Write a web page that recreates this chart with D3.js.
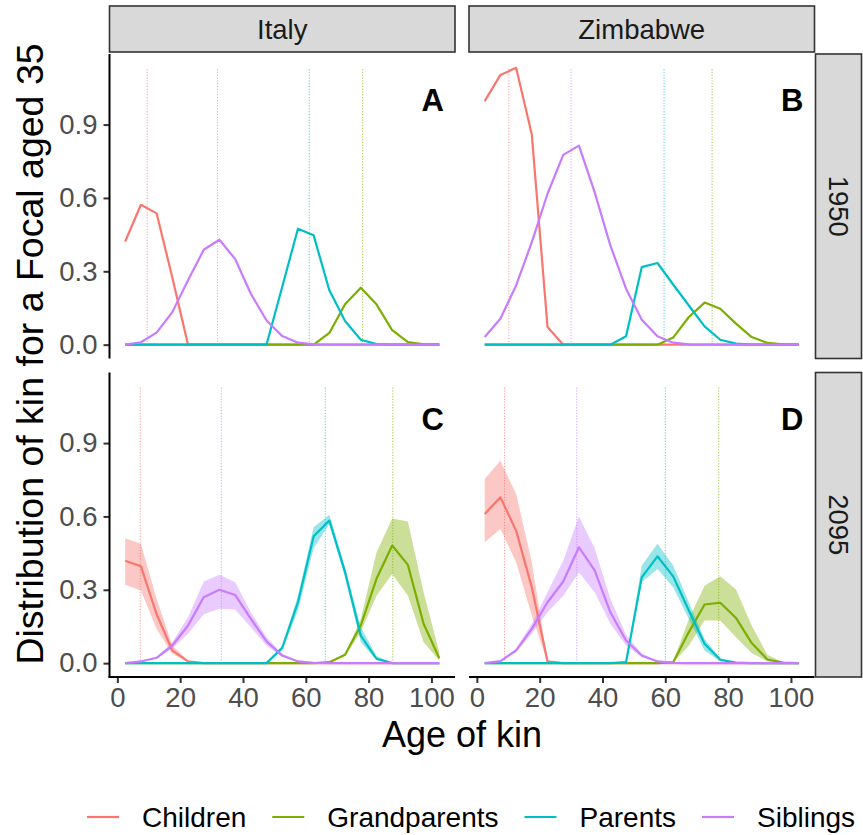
<!DOCTYPE html>
<html><head><meta charset="utf-8">
<script src="https://cdn.jsdelivr.net/npm/d3@7"></script>
<style>body{margin:0;background:#fff} text{font-family:"Liberation Sans",Arial,Helvetica,sans-serif}</style>
</head><body><svg id="chart" width="863" height="835"></svg>
<script>
// ---------- data ----------
const ages = [2.5,7.5,12.5,17.5,22.5,27.5,32.5,37.5,42.5,47.5,52.5,57.5,62.5,67.5,72.5,77.5,82.5,87.5,92.5,97.5,102.5];
const kinTypes = ["Children","Grandparents","Parents","Siblings"];
const kinColors = ["#F8766D","#7CAE00","#00BFC4","#C77CFF"];
const countries = ["Italy","Zimbabwe"];
const years = ["1950","2095"];
const panelLabels = ["A","B","C","D"];
const xTicks = [0,20,40,60,80,100];
const yTicks = [0,0.3,0.6,0.9];

// Italy 1950
const itaChildren1950 = [0.422,0.572,0.537,0.275,0,0,0,0,0,0,0,0,0,0,0,0,0,0,0,0,0];
const itaGrand1950    = [0,0,0,0,0,0,0,0,0,0,0,0,0,0.048,0.165,0.233,0.165,0.059,0.010,0.001,0];
const itaParents1950  = [0,0,0,0,0,0,0,0,0,0,0.237,0.474,0.447,0.222,0.097,0.020,0.002,0,0,0,0];
const itaSiblings1950 = [0,0.010,0.049,0.133,0.263,0.388,0.429,0.350,0.208,0.099,0.035,0.008,0.001,0,0,0,0,0,0,0,0];
const itaMeans1950 = [9.5,78.1,61.1,31.9];

// Zimbabwe 1950
const zwChildren1950 = [0.996,1.103,1.132,0.859,0.072,0,0,0,0,0,0,0,0,0,0,0,0,0,0,0,0];
const zwGrand1950    = [0,0,0,0,0,0,0,0,0,0,0,0,0.029,0.113,0.172,0.147,0.086,0.031,0.007,0.001,0];
const zwParents1950  = [0,0,0,0,0,0,0,0,0,0.034,0.317,0.334,0.246,0.160,0.075,0.020,0.004,0,0,0,0];
const zwSiblings1950 = [0.031,0.106,0.242,0.419,0.617,0.776,0.814,0.624,0.406,0.229,0.102,0.034,0.008,0.001,0,0,0,0,0,0,0];
const zwMeans1950 = [10.2,74.9,59.6,30.0];

// Italy 2095 (mean, lower, upper)
const itaChildren2095   = [0.419,0.396,0.200,0.052,0.007,0,0,0,0,0,0,0,0,0,0,0,0,0,0,0,0];
const itaChildrenLo2095 = [0.321,0.297,0.140,0.038,0.004,0,0,0,0,0,0,0,0,0,0,0,0,0,0,0,0];
const itaChildrenHi2095 = [0.511,0.488,0.263,0.072,0.010,0,0,0,0,0,0,0,0,0,0,0,0,0,0,0,0];
const itaGrand2095   = [0,0,0,0,0,0,0,0,0,0,0,0,0,0.004,0.034,0.154,0.345,0.481,0.402,0.161,0.020];
const itaGrandLo2095 = [0,0,0,0,0,0,0,0,0,0,0,0,0,0.003,0.030,0.127,0.276,0.365,0.276,0.086,0.011];
const itaGrandHi2095 = [0,0,0,0,0,0,0,0,0,0,0,0,0,0.005,0.040,0.181,0.453,0.592,0.579,0.290,0.045];
const itaParents2095   = [0,0,0,0,0,0,0,0,0,0,0.063,0.249,0.519,0.583,0.372,0.113,0.018,0,0,0,0];
const itaParentsLo2095 = [0,0,0,0,0,0,0,0,0,0,0.052,0.215,0.470,0.569,0.351,0.086,0.012,0,0,0,0];
const itaParentsHi2095 = [0,0,0,0,0,0,0,0,0,0,0.072,0.276,0.556,0.607,0.392,0.147,0.030,0,0,0,0];
const itaSiblings2095   = [0,0.007,0.022,0.072,0.154,0.270,0.300,0.279,0.181,0.089,0.031,0.007,0.001,0,0,0,0,0,0,0,0];
const itaSiblingsLo2095 = [0,0.006,0.019,0.060,0.120,0.200,0.222,0.219,0.147,0.072,0.025,0.005,0.001,0,0,0,0,0,0,0,0];
const itaSiblingsHi2095 = [0,0.008,0.025,0.085,0.188,0.334,0.362,0.331,0.208,0.106,0.038,0.009,0.001,0,0,0,0,0,0,0,0];
const itaMeans2095 = [7.3,87.7,66.2,33.1];

// Zimbabwe 2095 (mean, lower, upper)
const zwChildren2095   = [0.610,0.678,0.542,0.310,0.007,0,0,0,0,0,0,0,0,0,0,0,0,0,0,0,0];
const zwChildrenLo2095 = [0.494,0.549,0.413,0.195,0.004,0,0,0,0,0,0,0,0,0,0,0,0,0,0,0,0];
const zwChildrenHi2095 = [0.753,0.828,0.692,0.413,0.010,0,0,0,0,0,0,0,0,0,0,0,0,0,0,0,0];
const zwGrand2095   = [0,0,0,0,0,0,0,0,0,0,0,0,0.004,0.127,0.240,0.247,0.185,0.082,0.015,0.002,0];
const zwGrandLo2095 = [0,0,0,0,0,0,0,0,0,0,0,0,0.002,0.072,0.174,0.174,0.106,0.042,0.007,0.001,0];
const zwGrandHi2095 = [0,0,0,0,0,0,0,0,0,0,0,0,0.006,0.181,0.317,0.355,0.301,0.154,0.034,0.003,0];
const zwParents2095   = [0,0,0,0,0,0,0,0,0,0.004,0.351,0.437,0.355,0.215,0.079,0.014,0.002,0,0,0,0];
const zwParentsLo2095 = [0,0,0,0,0,0,0,0,0,0.003,0.331,0.385,0.310,0.181,0.052,0.008,0.001,0,0,0,0];
const zwParentsHi2095 = [0,0,0,0,0,0,0,0,0,0.005,0.399,0.488,0.399,0.249,0.099,0.020,0.003,0,0,0,0];
const zwSiblings2095   = [0,0.008,0.052,0.140,0.249,0.334,0.474,0.379,0.208,0.093,0.031,0.007,0.001,0,0,0,0,0,0,0,0];
const zwSiblingsLo2095 = [0,0.007,0.045,0.120,0.208,0.276,0.372,0.290,0.161,0.072,0.024,0.005,0.001,0,0,0,0,0,0,0,0];
const zwSiblingsHi2095 = [0,0.009,0.060,0.161,0.290,0.419,0.600,0.470,0.263,0.116,0.040,0.009,0.001,0,0,0,0,0,0,0,0];
const zwMeans2095 = [8.8,77.0,60.0,31.8];

// ---------- panels ----------
const panels = [
  {col:0,row:0,label:panelLabels[0],mean:[itaChildren1950,itaGrand1950,itaParents1950,itaSiblings1950],lo:null,hi:null,means:itaMeans1950},
  {col:1,row:0,label:panelLabels[1],mean:[zwChildren1950,zwGrand1950,zwParents1950,zwSiblings1950],lo:null,hi:null,means:zwMeans1950},
  {col:0,row:1,label:panelLabels[2],mean:[itaChildren2095,itaGrand2095,itaParents2095,itaSiblings2095],
    lo:[itaChildrenLo2095,itaGrandLo2095,itaParentsLo2095,itaSiblingsLo2095],hi:[itaChildrenHi2095,itaGrandHi2095,itaParentsHi2095,itaSiblingsHi2095],means:itaMeans2095},
  {col:1,row:1,label:panelLabels[3],mean:[zwChildren2095,zwGrand2095,zwParents2095,zwSiblings2095],
    lo:[zwChildrenLo2095,zwGrandLo2095,zwParentsLo2095,zwSiblingsLo2095],hi:[zwChildrenHi2095,zwGrandHi2095,zwParentsHi2095,zwSiblingsHi2095],means:zwMeans2095}
];

// ---------- layout ----------
const svg = d3.select("#chart");
const colX = [109.5, 469], panelW = 345.5;
const rowY = [54, 372.5], panelH = 304.5;
const stripTop = 6, stripH = 46;
const rStripX = 815.5, rStripW = 46;

const allVals = panels.flatMap(p => [...p.mean.flat(), ...(p.hi ? p.hi.flat() : [])]);
const yMax = d3.max(allVals), yMin = 0;
const yPad = 0.05*(yMax-yMin);
const xLo = d3.min(ages), xHi = d3.max(ages), xPad = 0.05*(xHi-xLo);

const tickCol = "#333333", labCol = "#4D4D4D";

panels.forEach(p => {
  const x = d3.scaleLinear().domain([xLo-xPad, xHi+xPad]).range([colX[p.col], colX[p.col]+panelW]);
  const y = d3.scaleLinear().domain([yMin-yPad, yMax+yPad]).range([rowY[p.row]+panelH, rowY[p.row]]);
  const g = svg.append("g");

  // mean-age segments
  kinTypes.forEach((k,i) => {
    g.append("line").attr("x1",x(p.means[i])).attr("x2",x(p.means[i]))
      .attr("y1",y(0)).attr("y2",y(yMax))
      .attr("stroke",kinColors[i]).attr("stroke-width",1).attr("stroke-dasharray","1.2,1.6").attr("opacity",0.7);
  });
  // ribbons
  if (p.lo) {
    kinTypes.forEach((k,i) => {
      const area = d3.area().x((d,j)=>x(ages[j])).y0((d,j)=>y(p.lo[i][j])).y1((d,j)=>y(p.hi[i][j]));
      g.append("path").attr("d",area(ages)).attr("fill",kinColors[i]).attr("opacity",0.4);
    });
  }
  // lines
  kinTypes.forEach((k,i) => {
    const line = d3.line().x((d,j)=>x(ages[j])).y(d=>y(d));
    g.append("path").attr("d",line(p.mean[i])).attr("fill","none")
      .attr("stroke",kinColors[i]).attr("stroke-width",2.2).attr("stroke-linejoin","round");
  });
  // panel label
  g.append("text").attr("x",x(104)).attr("y",y(1.0)).attr("dy","0.36em")
    .attr("text-anchor","end").attr("font-weight","bold").attr("font-size",31).attr("fill","#000").text(p.label);

  // y axis on left column
  if (p.col === 0) {
    const ya = g.append("g").attr("transform",`translate(${colX[0]},0)`)
      .call(d3.axisLeft(y).tickValues(yTicks).tickFormat(d3.format(".1f")).tickSize(6).tickPadding(6));
    ya.select(".domain").remove();
    ya.selectAll(".tick line").attr("stroke",tickCol).attr("stroke-width",2);
    ya.selectAll(".tick text").attr("font-size",27.5).attr("fill",labCol).attr("font-family",null);
    g.append("line").attr("x1",colX[0]).attr("x2",colX[0]).attr("y1",rowY[p.row]).attr("y2",rowY[p.row]+panelH)
      .attr("stroke","#000").attr("stroke-width",2);
  }
  // x axis on bottom row
  if (p.row === 1) {
    const xa = g.append("g").attr("transform",`translate(0,${rowY[1]+panelH})`)
      .call(d3.axisBottom(x).tickValues(xTicks).tickSize(6).tickPadding(4));
    xa.select(".domain").remove();
    xa.selectAll(".tick line").attr("stroke",tickCol).attr("stroke-width",2);
    xa.selectAll(".tick text").attr("font-size",27.5).attr("fill",labCol).attr("font-family",null);
    g.append("line").attr("x1",colX[p.col]-(p.col===0?1:0)).attr("x2",colX[p.col]+panelW).attr("y1",rowY[1]+panelH).attr("y2",rowY[1]+panelH)
      .attr("stroke","#000").attr("stroke-width",2);
  }
});

// top strips
countries.forEach((c,i) => {
  svg.append("rect").attr("x",colX[i]).attr("y",stripTop).attr("width",panelW).attr("height",stripH)
    .attr("fill","#D9D9D9").attr("stroke","#333333").attr("stroke-width",1.6);
  svg.append("text").attr("x",colX[i]+panelW/2).attr("y",stripTop+stripH/2).attr("dy","0.36em")
    .attr("text-anchor","middle").attr("font-size",27.5).attr("fill","#1A1A1A").text(c);
});
// right strips
years.forEach((yr,i) => {
  svg.append("rect").attr("x",rStripX).attr("y",rowY[i]).attr("width",rStripW).attr("height",panelH)
    .attr("fill","#D9D9D9").attr("stroke","#333333").attr("stroke-width",1.6);
  const cx = rStripX + rStripW/2, cy = rowY[i] + panelH/2;
  svg.append("text").attr("transform",`translate(${cx},${cy}) rotate(90)`).attr("dy","0.36em")
    .attr("text-anchor","middle").attr("font-size",27.5).attr("fill","#1A1A1A").text(yr);
});

// axis titles
svg.append("text").attr("x",(colX[0]+colX[1]+panelW)/2).attr("y",747).attr("text-anchor","middle")
  .attr("font-size",36).attr("fill","#000").text("Age of kin");
svg.append("text").attr("transform",`translate(43,354) rotate(-90)`).attr("text-anchor","middle")
  .attr("font-size",37.5).attr("fill","#000").text("Distribution of kin for a Focal aged 35");

// legend
let lx = 87;
const legY = 817;
kinTypes.forEach((k,i) => {
  svg.append("line").attr("x1",lx).attr("x2",lx+32).attr("y1",legY).attr("y2",legY)
    .attr("stroke",kinColors[i]).attr("stroke-width",2.2);
  const t = svg.append("text").attr("x",lx+32+23).attr("y",legY+10).attr("font-size",28).attr("fill","#000").text(k);
  lx = lx + 32 + 23 + t.node().getComputedTextLength() + 26;
});
</script></body></html>
